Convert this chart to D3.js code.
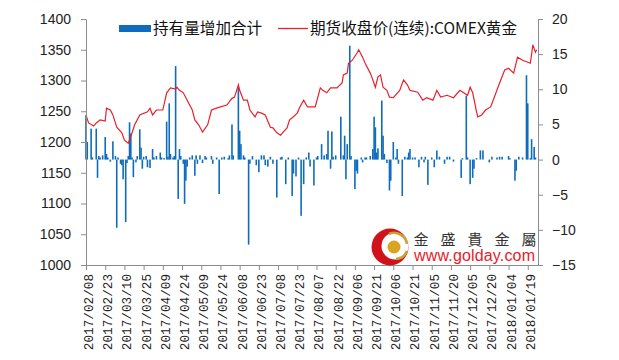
<!DOCTYPE html>
<html>
<head>
<meta charset="utf-8">
<script src="https://cdn.jsdelivr.net/npm/d3@7"></script>
<style>
  body { margin: 0; background: #fff; }
  svg { display: block; }
</style>
</head>
<body>
<div id="chart"></div>
<script>
// 期货收盘价(连续):COMEX黄金
const priceDates = [
  "2017/02/08","2017/02/10","2017/02/14","2017/02/16","2017/02/19","2017/02/23","2017/02/24","2017/02/27",
  "2017/03/01","2017/03/04","2017/03/08","2017/03/10","2017/03/13","2017/03/16","2017/03/18","2017/03/22",
  "2017/03/28","2017/03/30","2017/04/01","2017/04/04","2017/04/09","2017/04/12","2017/04/15","2017/04/19",
  "2017/04/20","2017/04/22","2017/04/25","2017/04/28","2017/05/02","2017/05/04","2017/05/07","2017/05/10",
  "2017/05/14","2017/05/17","2017/05/21","2017/05/24","2017/05/29","2017/06/02","2017/06/04","2017/06/07",
  "2017/06/08","2017/06/11","2017/06/14","2017/06/16","2017/06/20","2017/06/22","2017/06/25","2017/06/28",
  "2017/07/02","2017/07/04","2017/07/07","2017/07/10","2017/07/12","2017/07/15","2017/07/17","2017/07/20",
  "2017/07/23","2017/07/25","2017/07/28","2017/07/31","2017/08/02","2017/08/06","2017/08/10","2017/08/12",
  "2017/08/15","2017/08/18","2017/08/23","2017/08/27","2017/08/28","2017/08/31","2017/09/01","2017/09/04",
  "2017/09/08","2017/09/09","2017/09/12","2017/09/14","2017/09/18","2017/09/20","2017/09/22","2017/09/24",
  "2017/09/26","2017/09/28","2017/10/01","2017/10/03","2017/10/06","2017/10/11","2017/10/14","2017/10/17",
  "2017/10/19","2017/10/25","2017/10/29","2017/11/01","2017/11/06","2017/11/09","2017/11/12","2017/11/17",
  "2017/11/22","2017/11/27","2017/12/03","2017/12/05","2017/12/07","2017/12/10","2017/12/11","2017/12/14",
  "2017/12/17","2017/12/21","2017/12/23","2017/12/28","2018/01/01","2018/01/04","2018/01/08","2018/01/11",
  "2018/01/15","2018/01/21","2018/01/23","2018/01/25","2018/01/26"
];
const priceValues = [
  1244,1231,1226,1231,1236,1234,1255,1252,
  1244,1224,1215,1203,1198,1215,1228,1244,
  1249,1255,1244,1252,1252,1280,1288,1286,
  1289,1284,1280,1268,1252,1236,1228,1216,
  1228,1252,1255,1257,1260,1271,1273,1293,
  1284,1268,1268,1252,1241,1249,1247,1244,
  1224,1223,1215,1211,1216,1223,1236,1241,
  1247,1257,1268,1257,1257,1257,1288,1284,
  1280,1288,1288,1296,1309,1312,1328,1333,
  1346,1350,1338,1328,1312,1301,1289,1306,
  1309,1289,1284,1273,1272,1284,1301,1293,
  1284,1281,1268,1272,1268,1284,1273,1276,
  1272,1284,1276,1289,1280,1249,1241,1244,
  1252,1257,1268,1296,1317,1320,1312,1338,
  1333,1328,1358,1346,1350
];

// 持有量增加合计 (right axis)
const barDates = [
  "2017/02/08","2017/02/09","2017/02/12","2017/02/13","2017/02/16","2017/02/17","2017/02/18","2017/02/19",
  "2017/02/21","2017/02/23","2017/02/24","2017/02/25","2017/02/27","2017/03/01","2017/03/03","2017/03/04",
  "2017/03/05","2017/03/07","2017/03/08","2017/03/09","2017/03/11","2017/03/12","2017/03/13","2017/03/14",
  "2017/03/15","2017/03/16","2017/03/17","2017/03/19","2017/03/20","2017/03/22","2017/03/23","2017/03/24",
  "2017/03/25","2017/03/27","2017/03/28","2017/03/30","2017/04/01","2017/04/02","2017/04/04","2017/04/07",
  "2017/04/08","2017/04/10","2017/04/12","2017/04/13","2017/04/14","2017/04/15","2017/04/17","2017/04/18",
  "2017/04/19","2017/04/21","2017/04/22","2017/04/23","2017/04/25","2017/04/26","2017/04/27","2017/04/28",
  "2017/04/30","2017/05/02","2017/05/04","2017/05/05","2017/05/06","2017/05/08","2017/05/10","2017/05/12",
  "2017/05/13","2017/05/17","2017/05/18","2017/05/21","2017/05/23","2017/05/25","2017/05/27","2017/05/30",
  "2017/05/31","2017/06/02","2017/06/03","2017/06/07","2017/06/08","2017/06/09","2017/06/11","2017/06/12",
  "2017/06/15","2017/06/16","2017/06/18","2017/06/21","2017/06/23","2017/06/25","2017/06/27","2017/06/28",
  "2017/06/30","2017/07/02","2017/07/04","2017/07/07","2017/07/10","2017/07/11","2017/07/14","2017/07/16",
  "2017/07/19","2017/07/20","2017/07/22","2017/07/24","2017/07/26","2017/07/28","2017/07/30","2017/08/01",
  "2017/08/02","2017/08/05","2017/08/07","2017/08/08","2017/08/11","2017/08/13","2017/08/15","2017/08/16",
  "2017/08/18","2017/08/19","2017/08/20","2017/08/22","2017/08/26","2017/08/28","2017/08/29","2017/08/30",
  "2017/08/31","2017/09/02","2017/09/03","2017/09/06","2017/09/07","2017/09/08","2017/09/11","2017/09/12",
  "2017/09/14","2017/09/15","2017/09/18","2017/09/20","2017/09/21","2017/09/22","2017/09/23","2017/09/24",
  "2017/09/27","2017/09/28","2017/09/29","2017/10/01","2017/10/03","2017/10/04","2017/10/06","2017/10/08",
  "2017/10/09","2017/10/10","2017/10/13","2017/10/15","2017/10/17","2017/10/18","2017/10/19","2017/10/21",
  "2017/10/23","2017/10/26","2017/10/28","2017/10/30","2017/10/31","2017/11/02","2017/11/05","2017/11/07",
  "2017/11/09","2017/11/11","2017/11/15","2017/11/17","2017/11/19","2017/11/22","2017/11/28","2017/11/29",
  "2017/12/02","2017/12/03","2017/12/05","2017/12/07","2017/12/08","2017/12/10","2017/12/13","2017/12/15",
  "2017/12/20","2017/12/22","2017/12/26","2017/12/28","2017/12/30","2018/01/04","2018/01/05","2018/01/09",
  "2018/01/10","2018/01/12","2018/01/15","2018/01/18","2018/01/19","2018/01/21","2018/01/22","2018/01/24",
  "2018/01/25"
];
const barValues = [
  6.3,2.5,4.4,0.3,4.4,-2.6,0.5,0.3,
  0.6,3.2,0.8,0.3,-0.3,2.6,0.5,-9.7,
  0.3,-0.6,-0.8,-2.8,-8.9,-0.5,0.5,5.3,
  3.7,0.3,-2.5,-0.4,0.5,4.3,1.7,-1.3,
  0.4,0.5,-1.1,-1.2,1.5,0.3,0.5,1.0,
  0.3,0.2,5.4,0.4,8.0,0.8,0.3,0.5,
  13.3,-5.6,1.5,0.5,-0.6,-6.3,-3.0,-1.0,
  0.3,0.6,-2.3,0.6,-0.6,0.6,-0.5,0.5,
  0.3,0.5,-0.6,0.3,-4.9,0.3,0.4,0.2,
  0.6,5.0,0.6,10.3,4.1,2.2,0.6,0.3,
  -12.1,-0.6,0.5,-0.8,-1.8,0.6,0.6,-0.8,
  -1.0,0.4,-0.6,-5.4,0.3,0.4,-3.5,0.3,
  -5.2,-2.0,-2.4,0.3,-8.0,-3.5,0.3,1.0,
  -1.0,-3.7,0.3,0.5,2.2,0.6,0.8,4.1,
  -1.3,4.0,0.4,0.6,6.1,0.6,3.4,-2.8,
  2.2,16.2,0.5,-4.2,-1.6,-2.0,0.3,-0.4,
  0.3,0.3,0.5,1.5,6.1,4.6,1.0,1.6,
  8.4,3.4,0.8,-0.5,-4.4,-3.0,2.5,0.3,
  1.5,-0.6,-5.2,0.4,0.3,1.0,1.5,0.3,
  0.3,-1.1,0.4,-0.4,0.4,-3.6,0.3,-1.1,
  1.3,0.4,-0.6,0.4,0.4,-0.3,-2.6,0.2,
  9.1,0.3,-3.5,-2.6,-1.3,0.2,1.3,1.3,
  -0.4,0.4,0.3,0.4,0.4,0.5,0.2,-3.0,
  -1.6,0.4,0.3,12.0,8.0,0.2,2.9,1.8,
  0.3
];

const tickLabels = [
  "2017/02/08","2017/02/23","2017/03/10","2017/03/25","2017/04/09","2017/04/24",
  "2017/05/09","2017/05/24","2017/06/08","2017/06/23","2017/07/08","2017/07/23",
  "2017/08/07","2017/08/22","2017/09/06","2017/09/21","2017/10/06","2017/10/21",
  "2017/11/05","2017/11/20","2017/12/05","2017/12/20","2018/01/04","2018/01/19"
];
const leftTicks = [1000, 1050, 1100, 1150, 1200, 1250, 1300, 1350, 1400];
const rightTicks = [-15, -10, -5, 0, 5, 10, 15, 20];
const seriesNames = ["持有量增加合计", "期货收盘价(连续):COMEX黄金"];

const width = 619;
const height = 360;
const plot = { left: 86, right: 538, top: 19, bottom: 265 };
const axisColor = "#8c8c8c";
const barColor = "#0f6cbd";
const lineColor = "#e8202a";

const parse = d3.timeParse("%Y/%m/%d");

const svg = d3.select("#chart").append("svg")
  .attr("width", width)
  .attr("height", height);

const x = d3.scaleTime()
  .domain([parse("2017/02/08"), parse("2018/01/27")])
  .range([plot.left, plot.right]);
const yLeft = d3.scaleLinear().domain([1000, 1400]).range([plot.bottom, plot.top]);
const yRight = d3.scaleLinear().domain([-15, 20]).range([plot.bottom, plot.top]);

// bars
const bars = barDates.map((d, i) => ({ date: parse(d), value: barValues[i] }));
svg.append("g")
  .selectAll("rect")
  .data(bars)
  .enter().append("rect")
    .attr("x", d => x(d.date) - 0.8)
    .attr("width", 1.6)
    .attr("y", d => yRight(Math.max(0, d.value)))
    .attr("height", d => Math.abs(yRight(d.value) - yRight(0)))
    .attr("fill", barColor);

// price line
const prices = priceDates.map((d, i) => ({ date: parse(d), value: priceValues[i] }));
const line = d3.line()
  .x(d => x(d.date))
  .y(d => yLeft(d.value));
svg.append("path")
  .datum(prices)
  .attr("d", line)
  .attr("fill", "none")
  .attr("stroke", lineColor)
  .attr("stroke-width", 1.2);

// axes
function styleAxis(g) {
  g.select(".domain").attr("stroke", axisColor);
  g.selectAll(".tick line").attr("stroke", axisColor);
  g.selectAll("text").attr("fill", "#222");
}

const leftAxis = svg.append("g")
  .attr("transform", `translate(${plot.left},0)`)
  .call(d3.axisLeft(yLeft).tickValues(leftTicks).tickFormat(d3.format("d"))
    .tickSizeInner(5).tickSizeOuter(0).tickPadding(10));
leftAxis.selectAll("text")
  .style("font-family", "'Liberation Sans', Arial, sans-serif")
  .style("font-size", "14px");
styleAxis(leftAxis);

const rightAxis = svg.append("g")
  .attr("transform", `translate(${plot.right},0)`)
  .call(d3.axisRight(yRight).tickValues(rightTicks).tickFormat(d3.format("d"))
    .tickSizeInner(5).tickSizeOuter(0).tickPadding(9));
rightAxis.selectAll("text")
  .style("font-family", "'Liberation Sans', Arial, sans-serif")
  .style("font-size", "14px");
styleAxis(rightAxis);

const tickDates = tickLabels.map(parse);
const bottomAxis = svg.append("g")
  .attr("transform", `translate(0,${plot.bottom})`)
  .call(d3.axisBottom(x).tickValues(tickDates).tickSizeInner(5).tickSizeOuter(0)
    .tickFormat((d, i) => tickLabels[i]));
bottomAxis.selectAll("text")
  .style("font-family", "'Liberation Mono', 'DejaVu Sans Mono', monospace")
  .style("font-size", "12.7px")
  .attr("text-anchor", "end")
  .attr("transform", "rotate(-90)")
  .attr("x", -9)
  .attr("y", 2)
  .attr("dy", "0.35em");
styleAxis(bottomAxis);

// legend
const legend = svg.append("g")
  .style("font-family", "'Noto Sans CJK SC', sans-serif")
  .style("font-size", "15.6px")
  .attr("fill", "#111");
legend.append("rect")
  .attr("x", 119).attr("y", 25).attr("width", 32).attr("height", 7)
  .attr("fill", barColor);
legend.append("text")
  .attr("x", 153).attr("y", 28.5).attr("dy", "0.35em")
  .text(seriesNames[0]);
legend.append("line")
  .attr("x1", 278).attr("x2", 308).attr("y1", 28.5).attr("y2", 28.5)
  .attr("stroke", lineColor).attr("stroke-width", 1.3);
legend.append("text")
  .attr("x", 310).attr("y", 28.5).attr("dy", "0.35em")
  .text(seriesNames[1]);

// watermark
const wm = svg.append("g");
wm.append("circle").attr("cx", 390).attr("cy", 247).attr("r", 18.5).attr("fill", "#d0121b");
wm.append("circle").attr("cx", 395).attr("cy", 246).attr("r", 13.5).attr("fill", "#fff");
wm.append("path")
  .attr("d", "M389,234 A13,13 0 0,1 407,244")
  .attr("fill", "none").attr("stroke", "#c9a23a").attr("stroke-width", 2.5);
wm.append("path")
  .attr("d", "M407,251 A13,13 0 0,1 396,259")
  .attr("fill", "none").attr("stroke", "#c9a23a").attr("stroke-width", 2.5);
wm.append("circle").attr("cx", 394).attr("cy", 247).attr("r", 6.5).attr("fill", "#d9a520");
["金", "盛", "貴", "金", "屬"].forEach((c, i) => {
  wm.append("text")
    .attr("x", 421 + i * 27).attr("y", 239.5)
    .attr("dy", "0.35em")
    .attr("text-anchor", "middle")
    .style("font-family", "'Noto Sans CJK TC', sans-serif")
    .style("font-size", "15px")
    .attr("fill", "#333")
    .text(c);
});
wm.append("text")
  .attr("x", 414).attr("y", 261)
  .style("font-family", "'Liberation Sans', Arial, sans-serif")
  .style("font-size", "16px")
  .attr("textLength", 121)
  .attr("fill", "#e8202a")
  .text("www.golday.com");
</script>
</body>
</html>
